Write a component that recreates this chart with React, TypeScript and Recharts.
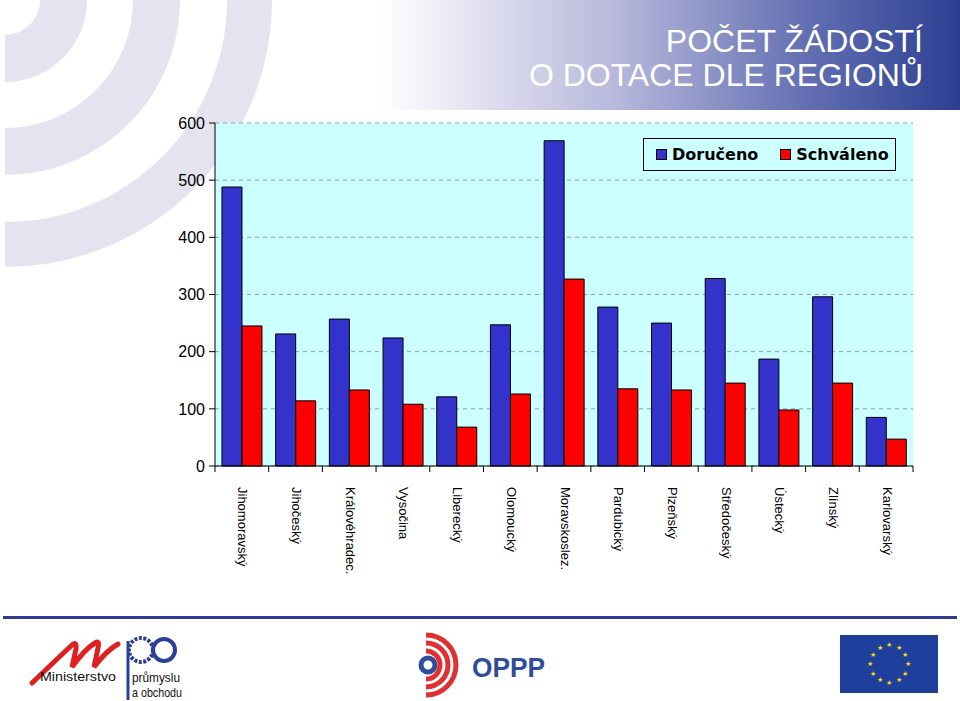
import React from 'react';
import { BarChart, Bar, XAxis, YAxis, CartesianGrid, Legend } from 'recharts';

// Počet žádostí o dotace podle regionů
const regions = [
  'Jihomoravský',
  'Jihočeský',
  'Královéhradec.',
  'Vysočina',
  'Liberecký',
  'Olomoucký',
  'Moravskoslez.',
  'Pardubický',
  'Plzeňský',
  'Středočeský',
  'Ústecký',
  'Zlínský',
  'Karlovarský',
];
const doruceno = [488, 231, 257, 224, 121, 247, 569, 278, 250, 328, 187, 296, 85];
const schvaleno = [245, 114, 133, 108, 68, 126, 327, 135, 133, 145, 98, 145, 47];
const yTicks = [0, 100, 200, 300, 400, 500, 600];

const data = regions.map((region, i) => ({
  region,
  doruceno: doruceno[i],
  schvaleno: schvaleno[i],
}));

const FONT = '"Liberation Sans", Arial, sans-serif';
const NARROW = '"Liberation Sans Narrow", "Liberation Sans", Arial, sans-serif';
const PLOT_LEFT = 215;
const PLOT_RIGHT = 913;
const PLOT_BOTTOM = 466;
const BAND = (PLOT_RIGHT - PLOT_LEFT) / regions.length;

// rotated region label + tick mark on the category boundary
function RegionTick(props: any) {
  const { x, payload, index } = props;
  const left = x - BAND / 2;
  const right = x + BAND / 2;
  return (
    <g>
      <line x1={left} y1={PLOT_BOTTOM} x2={left} y2={PLOT_BOTTOM + 6} stroke="#000" />
      {index === regions.length - 1 && (
        <line x1={right} y1={PLOT_BOTTOM} x2={right} y2={PLOT_BOTTOM + 6} stroke="#000" />
      )}
      <text
        x={0}
        y={0}
        transform={`translate(${x + 1},${PLOT_BOTTOM + 21}) rotate(90)`}
        fontSize={13}
        fontFamily={FONT}
        fill="#000"
        dominantBaseline="central"
      >
        {payload.value}
      </text>
    </g>
  );
}

function LegendBox({ payload }: any) {
  const items = payload || [];
  return (
    <div
      style={{
        boxSizing: 'border-box',
        width: 253,
        height: 33,
        border: '1.5px solid #000',
        display: 'flex',
        alignItems: 'center',
        paddingLeft: 12,
        fontFamily: '"DejaVu Sans", Verdana, sans-serif',
        fontWeight: 'bold',
        fontSize: 16,
        color: '#000',
      }}
    >
      {items.map((item: any, i: number) => (
        <div key={i} style={{ display: 'flex', alignItems: 'center', marginRight: i === 0 ? 22 : 0 }}>
          <span
            style={{
              display: 'inline-block',
              boxSizing: 'border-box',
              width: 11,
              height: 11,
              background: item.color,
              border: '1px solid #000',
              marginRight: 5,
            }}
          />
          <span>{item.value}</span>
        </div>
      ))}
    </div>
  );
}

function Arcs() {
  const rings = [
    { r: 58.5, w: 47 },
    { r: 151.5, w: 47 },
    { r: 244.5, w: 45 },
  ];
  return (
    <svg width={300} height={300} style={{ position: 'absolute', left: 0, top: 0 }}>
      <defs>
        <clipPath id="arcClip">
          <rect x={5} y={0} width={295} height={300} />
        </clipPath>
      </defs>
      <g clipPath="url(#arcClip)">
        {rings.map((ring, i) => (
          <circle key={i} cx={5} cy={0} r={ring.r} fill="none" stroke="#e4e4f0" strokeWidth={ring.w} />
        ))}
      </g>
    </svg>
  );
}

function Footer() {
  const stars = Array.from({ length: 12 }, (_, i) => i);
  return (
    <svg width={960} height={90} style={{ position: 'absolute', left: 0, top: 611 }}>
      <rect x={3} y={5} width={954} height={3} fill="#2f3b8e" />
      {/* MPO */}
      <path
        d="M 32 72 Q 55 50 72 34 Q 77 30 76 38 L 72 56 Q 85 38 95 32 Q 100 29 98 37 L 94 56 Q 106 40 118 33"
        fill="none"
        stroke="#e02020"
        strokeWidth={5}
        strokeLinecap="round"
      />
      <circle cx={141} cy={39} r={12} fill="none" stroke="#2a3f96" strokeWidth={4} strokeDasharray="3 1.5" />
      <circle cx={164} cy={39} r={11} fill="none" stroke="#2a3f96" strokeWidth={4} />
      <line x1={128} y1={30} x2={128} y2={89} stroke="#2a3f96" strokeWidth={3} />
      <text x={40} y={70} fontSize={13} fontFamily={NARROW} fill="#111" textLength={76} lengthAdjust="spacingAndGlyphs">
        Ministerstvo
      </text>
      <text x={132} y={71} fontSize={13} fontFamily={NARROW} fill="#111" textLength={48} lengthAdjust="spacingAndGlyphs">
        průmyslu
      </text>
      <text x={132} y={86} fontSize={13} fontFamily={NARROW} fill="#111" textLength={50} lengthAdjust="spacingAndGlyphs">
        a obchodu
      </text>
      {/* OPPP */}
      <circle cx={428} cy={54} r={7} fill="none" stroke="#2f4d9c" strokeWidth={5} />
      {[14, 22, 30].map((r) => (
        <path
          key={r}
          d={`M ${426} ${54 - r} A ${r} ${r} 0 0 1 ${426} ${54 + r}`}
          fill="none"
          stroke="#e03030"
          strokeWidth={5}
        />
      ))}
      <text x={472} y={66} fontSize={27} fontWeight="bold" fontFamily={FONT} fill="#2f4d9c" textLength={73} lengthAdjust="spacingAndGlyphs">
        OPPP
      </text>
      {/* EU */}
      <rect x={840} y={24} width={98} height={58} fill="#1e3f9c" />
      {stars.map((i) => {
        const a = (i / 12) * Math.PI * 2;
        return (
          <text
            key={i}
            x={889 + 19 * Math.sin(a)}
            y={53 - 19 * Math.cos(a)}
            fontSize={7}
            fill="#ffdd00"
            textAnchor="middle"
            dominantBaseline="central"
          >
            ★
          </text>
        );
      })}
    </svg>
  );
}

export default function App() {
  return (
    <div
      style={{
        position: 'absolute',
        left: 0,
        top: 0,
        width: 960,
        height: 701,
        overflow: 'hidden',
        background: '#fff',
      }}
    >
      <Arcs />
      <div
        style={{
          position: 'absolute',
          left: 380,
          top: 0,
          width: 580,
          height: 110,
          background: 'linear-gradient(to right, rgba(255,255,255,0) 0%, #b8b9dc 40%, #5f6cb0 75%, #2b3f92 100%)',
        }}
      />
      <div
        style={{
          position: 'absolute',
          right: 37,
          top: 24,
          textAlign: 'right',
          color: '#fff',
          fontFamily: FONT,
          fontSize: 32,
          lineHeight: '34px',
        }}
      >
        <div>POČET ŽÁDOSTÍ</div>
        <div>O DOTACE DLE REGIONŮ</div>
      </div>

      <div style={{ position: 'absolute', left: 0, top: 0 }}>
        <BarChart
          width={960}
          height={600}
          data={data}
          margin={{ top: 123, right: 47, bottom: 24, left: 0 }}
          barCategoryGap="13%"
          barGap={0}
        >
          <CartesianGrid
            vertical={false}
            stroke="#90a4a4"
            strokeDasharray="4 4"
            fill="#ccffff"
            fillOpacity={1}
          />
          <XAxis
            dataKey="region"
            height={110}
            interval={0}
            tickLine={false}
            axisLine={{ stroke: '#000' }}
            tick={<RegionTick />}
          />
          <XAxis
            xAxisId="top"
            orientation="top"
            dataKey="region"
            height={0}
            tick={false}
            tickLine={false}
            axisLine={{ stroke: '#000' }}
          />
          <YAxis
            width={PLOT_LEFT}
            domain={[0, 600]}
            ticks={yTicks}
            interval={0}
            tickSize={6}
            tickMargin={4}
            axisLine={{ stroke: '#000' }}
            tickLine={{ stroke: '#000' }}
            tick={{ fill: '#000', fontSize: 16, fontFamily: FONT }}
          />
          <YAxis
            yAxisId="right"
            orientation="right"
            width={0}
            domain={[0, 600]}
            tick={false}
            tickLine={false}
            axisLine={{ stroke: '#000' }}
          />
          <Legend
            layout="horizontal"
            verticalAlign="middle"
            align="center"
            wrapperStyle={{ position: 'absolute', top: 138, left: 643, width: 253, height: 33 }}
            content={(props: any) => <LegendBox payload={props.payload} />}
          />
          <Bar
            dataKey="doruceno"
            name="Doručeno"
            fill="#3333cc"
            stroke="#000"
            strokeWidth={1}
            isAnimationActive={false}
          />
          <Bar
            dataKey="schvaleno"
            name="Schváleno"
            fill="#ff0000"
            stroke="#000"
            strokeWidth={1}
            isAnimationActive={false}
          />
        </BarChart>
      </div>

      <Footer />
    </div>
  );
}
